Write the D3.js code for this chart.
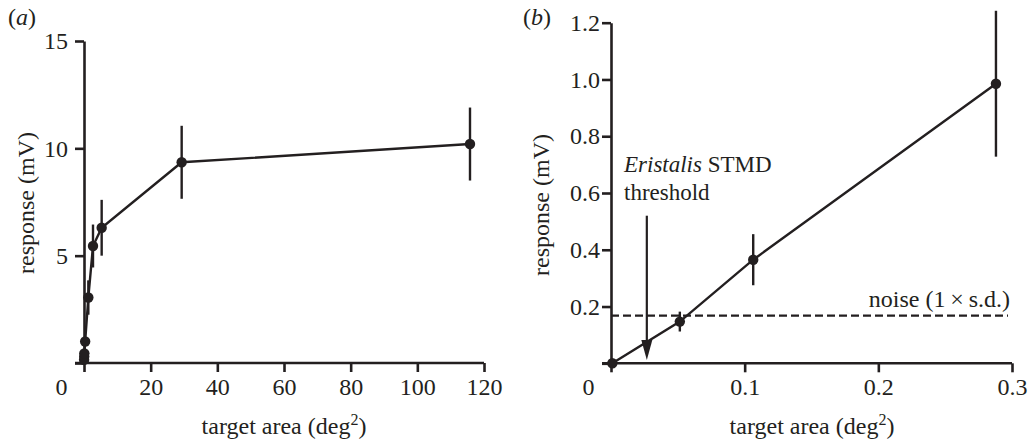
<!DOCTYPE html>
<html>
<head>
<meta charset="utf-8">
<script src="https://cdn.jsdelivr.net/npm/d3@7"></script>
<style>
  body { margin: 0; background: #fff; }
  svg text { font-family: "Liberation Serif", "Times New Roman", serif; }
</style>
</head>
<body>
<svg width="1029" height="443"></svg>
<script>
// panel (a)
var areaA = [0.03, 0.06, 0.1, 0.35, 1.3, 2.7, 5.3, 29.3, 115.8];
var respA = [0.15, 0.3, 0.45, 1.0, 3.05, 5.45, 6.3, 9.35, 10.2];
var errA  = [0, 0, 0, 0, 0.8, 1.0, 1.3, 1.7, 1.7];
var xTicksA = [0, 20, 40, 60, 80, 100, 120];
var yTicksA = [0, 5, 10, 15];

// panel (b)
var areaB = [0.001, 0.0515, 0.1064, 0.288];
var respB = [0, 0.147, 0.365, 0.985];
var errB  = [0, 0.035, 0.09, 0.257];
var xTicksB = [0, 0.1, 0.2, 0.3];
var yTicksB = [0, 0.2, 0.4, 0.6, 0.8, 1.0, 1.2];
var noise = 0.168;
var threshold = 0.0268, arrowTop = 0.52, arrowTip = 0.012;

var svg = d3.select("svg");
var ink = "#231f20";

var xA = d3.scaleLinear().domain([0, 120]).range([84, 484]);
var yA = d3.scaleLinear().domain([0, 15]).range([363, 41]);
var xB = d3.scaleLinear().domain([0, 0.3]).range([611, 1012]);
var yB = d3.scaleLinear().domain([0, 1.2]).range([363.3, 22.7]);

function zip(xs, ys, es) {
  return xs.map(function(x, i) { return {x: x, y: ys[i], e: es[i]}; });
}

function fmt(spec) {
  var f = d3.format(spec);
  return function(d) { return d === 0 ? "0" : f(d); };
}

function drawAxes(x, y, xt, yt, xfmt, yfmt, ylabGap) {
  var gx = svg.append("g")
      .attr("transform", "translate(0," + y(0) + ")")
      .call(d3.axisBottom(x).tickValues(xt).tickSize(9).tickSizeOuter(0)
        .tickFormat(xfmt));
  var gy = svg.append("g")
      .attr("transform", "translate(" + x(0) + ",0)")
      .call(d3.axisLeft(y).tickValues(yt).tickSize(9).tickSizeOuter(0)
        .tickFormat(function(d) { return d === 0 ? "" : yfmt(d); }));
  [gx, gy].forEach(function(g) {
    g.attr("font-family", null);
    g.selectAll("path, line").attr("stroke", ink).attr("stroke-width", 2.6);
    g.selectAll("text").attr("font-size", 24).attr("fill", ink);
  });
  gx.selectAll("text").attr("y", 15);
  // the shared origin label sits at the corner
  gx.selectAll(".tick").filter(function(d) { return d === 0; })
    .select("text").attr("dx", -23);
  gy.selectAll("text").attr("x", -ylabGap);
  // extend the x axis a tick to the left
  gx.select("path.domain").attr("d", "M" + (x.range()[0] - 9) + ",0H" + x.range()[1]);
}

function drawSeries(x, y, data) {
  var line = d3.line().x(function(d) { return x(d.x); }).y(function(d) { return y(d.y); });
  svg.append("g").selectAll("line").data(data.filter(function(d) { return d.e > 0; }))
    .enter().append("line")
      .attr("x1", function(d) { return x(d.x); })
      .attr("x2", function(d) { return x(d.x); })
      .attr("y1", function(d) { return y(d.y - d.e); })
      .attr("y2", function(d) { return y(d.y + d.e); })
      .attr("stroke", ink).attr("stroke-width", 2.4);
  svg.append("path").datum(data)
    .attr("d", line)
    .attr("fill", "none").attr("stroke", ink).attr("stroke-width", 2.4);
  svg.append("g").selectAll("circle").data(data)
    .enter().append("circle")
      .attr("cx", function(d) { return x(d.x); })
      .attr("cy", function(d) { return y(d.y); })
      .attr("r", 5.2)
      .attr("fill", ink);
}

function label(x, y, rot, anchor) {
  return svg.append("text")
    .attr("transform", "translate(" + x + "," + y + ")" + (rot ? " rotate(-90)" : ""))
    .attr("text-anchor", anchor || "middle")
    .attr("font-size", 24).attr("fill", ink);
}

function xLabel(cx) {
  var t = label(cx, 434);
  t.append("tspan").text("target area (deg");
  t.append("tspan").text("2").attr("font-size", 16).attr("dy", -9);
  t.append("tspan").text(")").attr("dy", 9);
}

// panel (a)
drawAxes(xA, yA, xTicksA, yTicksA, fmt("d"), fmt("d"), 16);
drawSeries(xA, yA, zip(areaA, respA, errA));
label(34, 203, true).text("response (mV)");
xLabel(284);
var pa = label(8, 25, false, "start");
pa.append("tspan").text("(");
pa.append("tspan").text("a").attr("font-style", "italic");
pa.append("tspan").text(")");

// panel (b)
drawAxes(xB, yB, xTicksB, yTicksB, fmt(".1f"), fmt(".1f"), 11);

svg.append("line")
  .attr("x1", xB(0)).attr("x2", xB(0.297))
  .attr("y1", yB(noise)).attr("y2", yB(noise))
  .attr("stroke", ink).attr("stroke-width", 2.4)
  .attr("stroke-dasharray", "8,4");

drawSeries(xB, yB, zip(areaB, respB, errB));

// threshold arrow
var tipY = yB(arrowTip), headH = 20, headW = 5.5;
svg.append("line")
  .attr("x1", xB(threshold)).attr("x2", xB(threshold))
  .attr("y1", yB(arrowTop)).attr("y2", tipY - headH + 2)
  .attr("stroke", ink).attr("stroke-width", 2.2);
svg.append("path")
  .attr("d", "M" + (xB(threshold) - headW) + "," + (tipY - headH) +
             "L" + (xB(threshold) + headW) + "," + (tipY - headH) +
             "L" + xB(threshold) + "," + tipY + "Z")
  .attr("fill", ink);

var e1 = label(624, 172, false, "start").attr("font-size", 23);
e1.append("tspan").text("Eristalis").attr("font-style", "italic");
e1.append("tspan").text(" STMD");
label(624, 200, false, "start").attr("font-size", 23).text("threshold");
label(xB(0.2985), 307, false, "end").text("noise (1\u2009\u00d7\u2009s.d.)");

label(549, 205, true).text("response (mV)");
xLabel(812);
var pb = label(523, 25, false, "start");
pb.append("tspan").text("(");
pb.append("tspan").text("b").attr("font-style", "italic");
pb.append("tspan").text(")");
</script>
</body>
</html>
